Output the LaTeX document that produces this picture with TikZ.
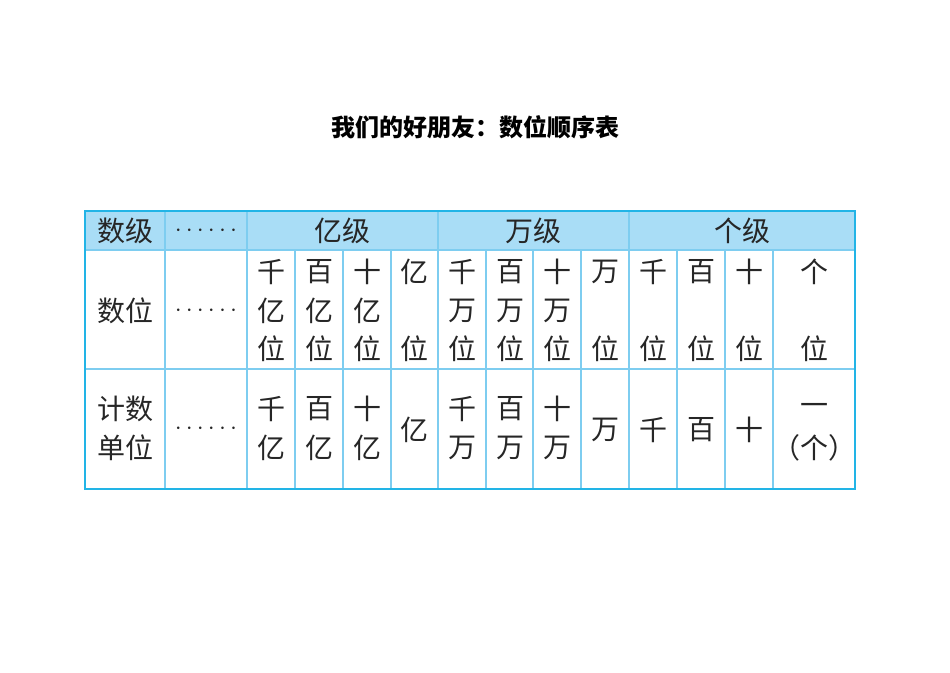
\documentclass[tikz,border=0pt]{standalone}
\usepackage{fontspec}
\newfontfamily\cjk{Noto Sans CJK SC}
\definecolor{outer}{HTML}{22B4E6}
\definecolor{inner}{HTML}{7ECDF0}
\definecolor{head}{HTML}{A9DDF6}
\begin{document}
\begin{tikzpicture}[x=1pt,y=-1pt,
  t/.style={font=\cjk\fontsize{28}{28}\selectfont,inner sep=0pt,text=black!85},
  dd/.style={font=\fontsize{28}{28}\selectfont,inner sep=0pt,text=black!85},
  ttl/.style={font=\cjk\bfseries\fontsize{24}{24}\selectfont,inner sep=0pt}]
\useasboundingbox (0,0) rectangle (950,672);
\node[ttl] (title) at (475,127) {我们的好朋友：数位顺序表};
\fill[head] (85,211) rectangle (855,250);
\foreach \x in {165,247,438,629} \draw[inner,line width=1.2pt] (\x,211) -- (\x,489);
\foreach \x in {295,343,391,486,533,581,677,725,773} \draw[inner,line width=1.2pt] (\x,250) -- (\x,489);
\draw[inner,line width=1.2pt] (85,250) -- (855,250);
\draw[inner,line width=1.2pt] (85,369) -- (855,369);
\draw[outer,line width=2.5pt] (85,211) rectangle (855,489);
% header
\node[t] (h1) at (125,231) {数级};
\node[dd] (h2) at (206,231) {$\cdots\cdots$};
\node[t] (h3) at (342,231) {亿级};
\node[t] (h4) at (533,231) {万级};
\node[t] (h5) at (742,231) {个级};
% row 2
\node[t] (r1) at (125,311) {数位};
\node[dd] (r2) at (206,311) {$\cdots\cdots$};
\foreach \x/\a/\b [count=\i] in {271/千/亿,319/百/亿,367/十/亿,462/千/万,510/百/万,557/十/万}{
  \node[t] (a\i) at (\x,272) {\a};
  \node[t] (b\i) at (\x,311) {\b};
  \node[t] (c\i) at (\x,349) {位};
}
\foreach \x/\a [count=\i] in {414/亿,605/万,653/千,701/百,749/十,814/个}{
  \node[t] (d\i) at (\x,272) {\a};
  \node[t] (e\i) at (\x,349) {位};
}
% row 3
\node[t] (s1) at (125,409) {计数};
\node[t] (s2) at (125,448) {单位};
\node[dd] (s3) at (206,429) {$\cdots\cdots$};
\foreach \x/\a/\b [count=\i] in {271/千/亿,319/百/亿,367/十/亿,462/千/万,510/百/万,557/十/万}{
  \node[t] (f\i) at (\x,409) {\a};
  \node[t] (g\i) at (\x,448) {\b};
}
\foreach \x/\a [count=\i] in {414/亿,605/万,653/千,701/百,749/十}{
  \node[t] (k\i) at (\x,430) {\a};
}
\node[t] (m1) at (814,409) {一};
\node[t] (m2) at (814,448) {（个）};
\end{tikzpicture}
\end{document}
